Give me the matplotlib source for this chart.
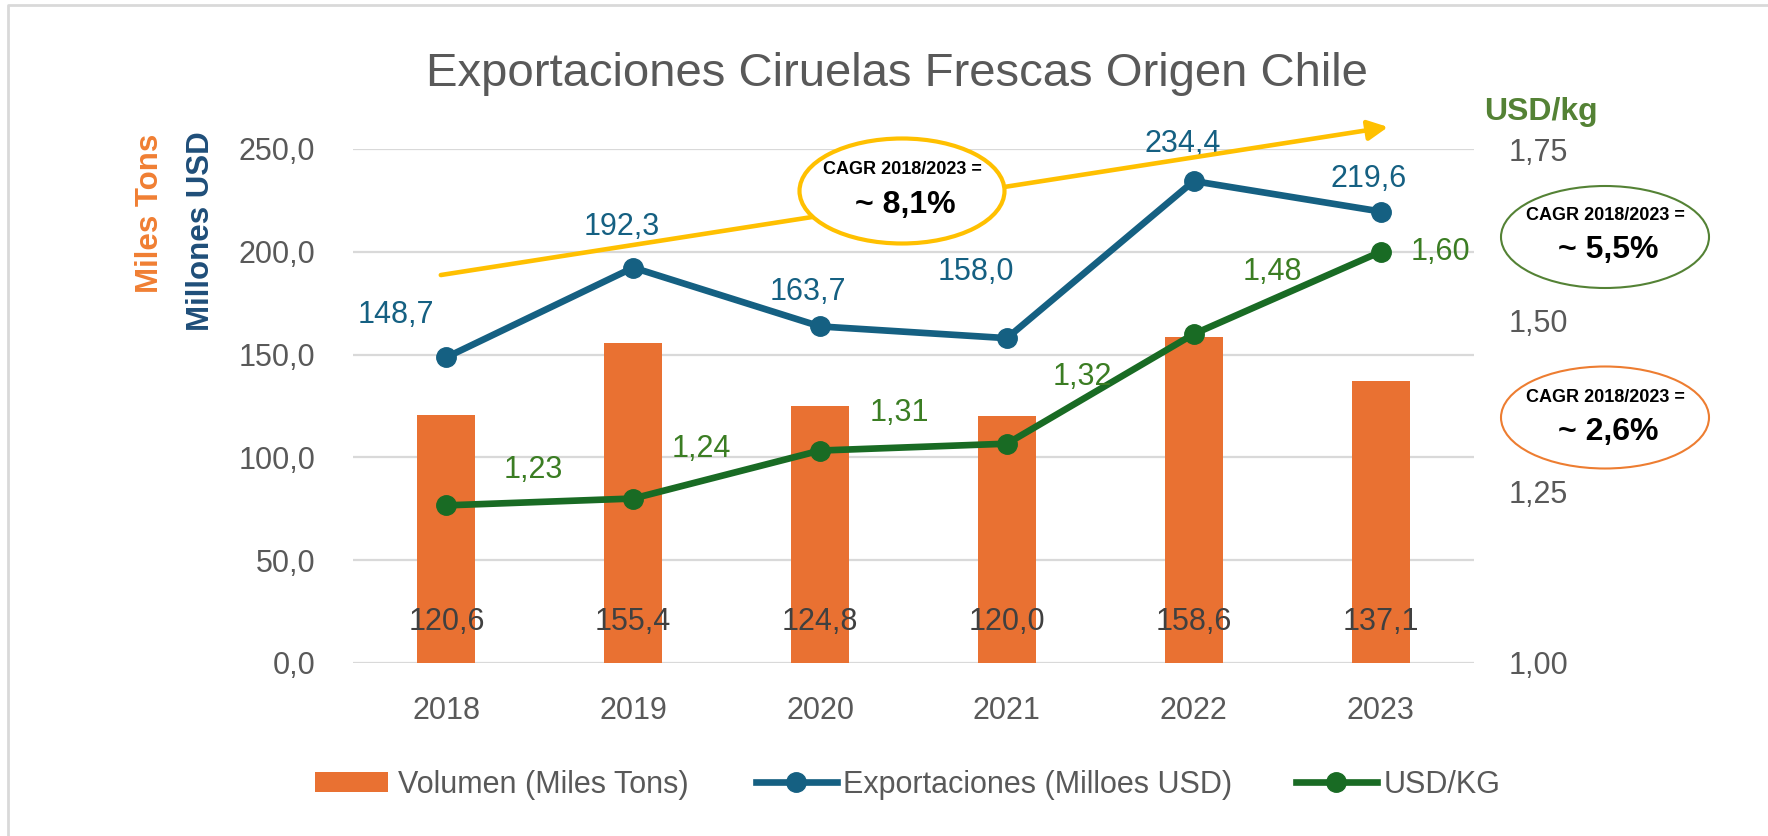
import matplotlib
matplotlib.use('Agg')
import matplotlib.pyplot as plt
from matplotlib.patches import Ellipse
from matplotlib.lines import Line2D
import numpy as np

years = ['2018', '2019', '2020', '2021', '2022', '2023']
volumen = [120.6, 155.4, 124.8, 120.0, 158.6, 137.1]
exportaciones = [148.7, 192.3, 163.7, 158.0, 234.4, 219.6]
usd_kg = [1.23, 1.24, 1.31, 1.32, 1.48, 1.60]

# label offsets in pixels (dx, dy)
exp_offsets = [(-51, 42), (-11, 41), (-12, 34), (-31, 66), (-11, 37), (-12, 33)]
kg_offsets = [(87, 35), (68, 50), (79, 38), (75, 67), (79, 62), (60, 0)]

ORANGE = '#E97132'
BLUE = '#156082'
GREEN = '#196B24'
GREEN_LBL = '#3B7D23'
GRAY = '#595959'
YELLOW = '#FFC000'

plt.rcParams['font.family'] = ['Liberation Sans', 'DejaVu Sans']

def fmt(v, d):
    return f'{v:.{d}f}'.replace('.', ',')

fig = plt.figure(figsize=(17.68, 8.36), dpi=100)
ax = fig.add_axes([353/1768, 1-663/836, 1121/1768, 514/836])
ax2 = ax.twinx()

x = np.arange(len(years))
bars = ax.bar(x, volumen, width=0.31, color=ORANGE, label='Volumen (Miles Tons)', zorder=2)
exp_line, = ax.plot(x, exportaciones, color=BLUE, lw=4.8, marker='o', ms=14,
                    label='Exportaciones (Milloes USD)', zorder=3)
kg_line, = ax2.plot(x, usd_kg, color=GREEN, lw=4.8, marker='o', ms=14,
                    label='USD/KG', zorder=3)

ax.set_xlim(-0.5, 5.5)
ax.set_ylim(0, 250)
ax2.set_ylim(1.0, 1.75)
ax.set_yticks(np.arange(0, 251, 50))
ax2.set_yticks([1.0, 1.25, 1.5, 1.75])
ax.set_yticklabels([fmt(v, 1) for v in np.arange(0, 251, 50)])
ax2.set_yticklabels([fmt(v, 2) for v in [1.0, 1.25, 1.5, 1.75]])
ax.set_xticks(x)
ax.set_xticklabels(years)
ax.grid(axis='y', color='#D9D9D9', lw=1.6)
ax.set_axisbelow(True)
for a in (ax, ax2):
    for s in a.spines.values():
        s.set_visible(False)
ax.tick_params(axis='y', length=0, pad=27, labelsize=22, labelcolor=GRAY)
ax.tick_params(axis='x', length=0, pad=24, labelsize=22, labelcolor=GRAY)
ax2.tick_params(axis='y', length=0, pad=25, labelsize=22, labelcolor=GRAY)

# bar labels near base
for xi, v in zip(x, volumen):
    ax.text(xi, 20, fmt(v, 1), ha='center', va='center', fontsize=22, color='#404040', zorder=4)

for xi, v, (dx, dy) in zip(x, exportaciones, exp_offsets):
    ax.annotate(fmt(v, 1), (xi, v), xytext=(dx, dy), textcoords='offset pixels',
                ha='center', va='center', fontsize=22, color=BLUE)
for xi, v, (dx, dy) in zip(x, usd_kg, kg_offsets):
    ax2.annotate(fmt(v, 2), (xi, v), xytext=(dx, dy), textcoords='offset pixels',
                 ha='center', va='center', fontsize=22, color=GREEN_LBL)

# trend arrow
ax.annotate('', xy=(5.04, 260.7), xytext=(-0.03, 188.7), annotation_clip=False,
            arrowprops=dict(arrowstyle='-|>', color=YELLOW, lw=3.3,
                            mutation_scale=30, shrinkA=0, shrinkB=0))

fig.text(0.5074, 1-74/836, 'Exportaciones Ciruelas Frescas Origen Chile',
         ha='center', va='center', fontsize=34, color=GRAY)
fig.text(150/1768, 1-213/836, 'Miles Tons', rotation=90, ha='center', va='center',
         fontsize=22.5, fontweight='bold', color='#F07F33')
fig.text(201/1768, 1-231/836, 'Millones USD', rotation=90, ha='center', va='center',
         fontsize=22.5, fontweight='bold', color='#1F4E79')
fig.text(1541/1768, 1-112/836, 'USD/kg', ha='center', va='center',
         fontsize=23, fontweight='bold', color='#548235')

# CAGR ellipses
tr = fig.dpi_scale_trans
cagr = [((9.02, 6.45), 2.05, 1.05, YELLOW, 3.0, 6.67, 6.31, '~ 8,1%'),
        ((16.05, 5.99), 2.08, 1.02, '#548235', 1.5, 6.21, 5.86, '~ 5,5%'),
        ((16.05, 4.185), 2.08, 1.02, '#ED7D31', 1.5, 4.39, 4.04, '~ 2,6%')]
for c, w, h, ec, lw, y1, y2, txt in cagr:
    fig.patches.append(Ellipse(c, w, h, transform=tr, facecolor='white',
                               edgecolor=ec, lw=lw, zorder=10))
    fig.text(c[0], y1, 'CAGR 2018/2023 =', transform=tr, ha='center', va='center',
             fontsize=13, fontweight='bold', color='black', zorder=11)
    fig.text(c[0] + 0.03, y2, txt, transform=tr, ha='center', va='center',
             fontsize=23, fontweight='bold', color='black', zorder=11)

# frame border (top and left)
fig.add_artist(Line2D([8/1768, 8/1768, 1.0], [0.0, 1-5/836, 1-5/836],
                      transform=fig.transFigure, color='#D9D9D9', lw=2))

# legends
leg_kw = dict(frameon=False, borderpad=0, borderaxespad=0, fontsize=22,
              labelcolor=GRAY, loc='center left')
ly = 1 - 785/836
fig.legend([bars], ['Volumen (Miles Tons)'], bbox_to_anchor=(315/1768, ly),
           handlelength=2.4, handleheight=0.65, handletextpad=0.33, **leg_kw)
fig.legend([exp_line], ['Exportaciones (Milloes USD)'], bbox_to_anchor=(756/1768, ly),
           handlelength=2.65, handletextpad=0.2, **leg_kw)
fig.legend([kg_line], ['USD/KG'], bbox_to_anchor=(1296/1768, ly),
           handlelength=2.65, handletextpad=0.23, **leg_kw)

fig.savefig('out.png', dpi=100)
